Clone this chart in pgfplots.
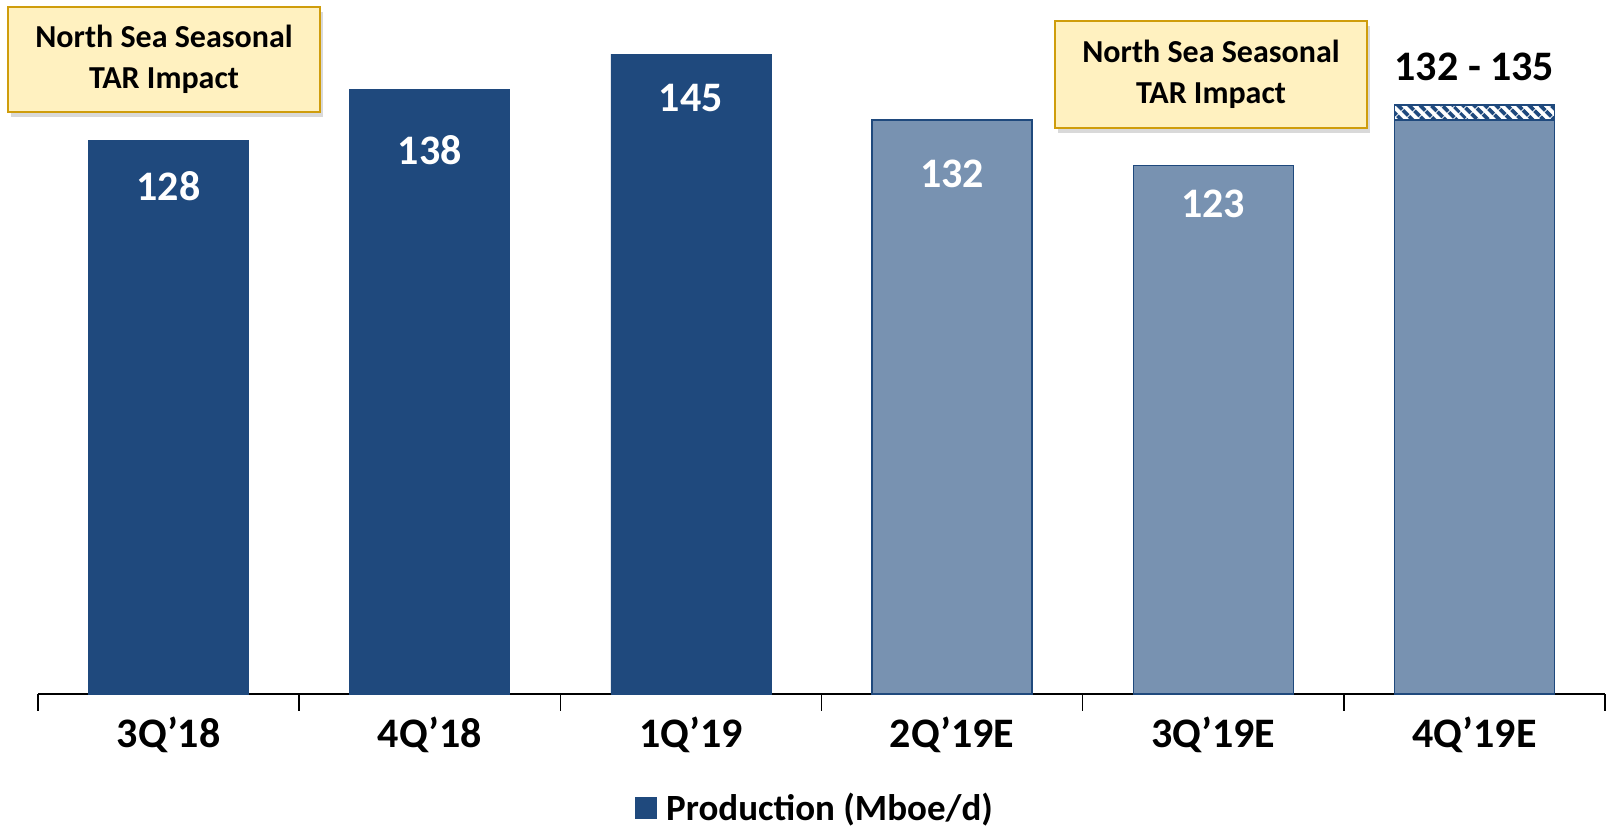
\documentclass[border=0pt]{standalone}
\usepackage{fontspec}
\setmainfont{Carlito}
\usepackage{pgfplots}
\pgfplotsset{compat=1.18}
\usetikzlibrary{shadows,patterns.meta}
\definecolor{cdark}{HTML}{1F497D}
\definecolor{clight}{HTML}{7892B1}
\definecolor{cboxfill}{HTML}{FFF1C0}
\definecolor{cboxline}{HTML}{CF9D0C}
\newcommand{\biglab}{\bfseries\fontsize{21}{25}\selectfont}
\newcommand{\boxlab}{\bfseries\fontsize{16}{20.5}\selectfont}
\newcommand{\leglab}{\bfseries\fontsize{18.5}{22}\selectfont}

\begin{document}
\begin{tikzpicture}
\begin{axis}[
  at={(19pt,67pt)}, anchor=south west,
  scale only axis, width=783.5pt, height=332.6pt,
  xmin=-0.5, xmax=5.5, ymin=18.8, ymax=150,
  ybar, bar width=80pt, clip=false,
  axis x line*=bottom, axis y line=none,
  x axis line style={black, line width=0.7pt, -},
  xtick={0,...,5},
  xticklabels={3Q’18,4Q’18,1Q’19,2Q’19E,3Q’19E,4Q’19E},
  major tick length=0pt,
  minor xtick={-0.5,0.5,...,5.5},
  minor tick length=8.5pt,
  tick align=outside,
  minor x tick style={black, line width=0.7pt},
  major x tick style={draw=none},
  xticklabel style={font=\biglab, anchor=base, yshift=-27pt},
  /pgf/number format/assume math mode=true,
  legend style={at={(0.4965,-0.1714)}, anchor=center, draw=none, fill=none,
    font=\leglab},
]
% actual quarters
\addplot[fill=cdark, draw=cdark, bar shift=0pt,
  legend image code/.code={\fill[cdark] (0pt,-5.25pt) rectangle (10.5pt,5.25pt);
    \path (13.1pt,0pt);},
  visualization depends on={\thisrow{off} \as \off},
  nodes near coords,
  every node near coord/.append style={font=\biglab, text=white, anchor=center, yshift=-\off pt}]
  table[x=x, y=y] {
x y off
0 128 23.0
1 138 30.2
2 145 22.0
};
\addlegendentry{Production (Mboe/d)}
% estimates
\addplot[fill=clight, draw=cdark, line width=0.75pt, bar shift=0pt, forget plot,
  visualization depends on={\thisrow{off} \as \off},
  nodes near coords,
  every node near coord/.append style={font=\biglab, text=white, anchor=center, yshift=-\off pt}]
  table[x=x, y=y] {
x y off
3 132 27.1
4 123 18.9
};
% 4Q'19E guidance range
\addplot[pattern={Lines[angle=-45, distance=4pt, line width=2pt]}, pattern color=cdark,
  draw=cdark, line width=0.75pt, bar shift=0pt, forget plot,
  nodes near coords={132 - 135},
  every node near coord/.append style={font=\biglab, text=black, anchor=center, yshift=18.75pt}]
  coordinates {(5,135)};
\addplot[fill=clight, draw=cdark, line width=0.75pt, bar shift=0pt, forget plot]
  coordinates {(5,132)};
\end{axis}
\tikzset{tarbox/.style={draw=cboxline, line width=1pt, fill=cboxfill, align=center,
  font=\boxlab, minimum width=156pt, inner sep=0pt,
  drop shadow={shadow xshift=1.5pt, shadow yshift=-2.5pt, opacity=0.3}}}
\node[tarbox, minimum height=52.5pt] at (82pt,384.25pt) {North Sea Seasonal\\TAR Impact};
\node[tarbox, minimum height=53.5pt] at (605.5pt,376.75pt) {North Sea Seasonal\\TAR Impact};
\pgfresetboundingbox
\useasboundingbox (0pt,0pt) rectangle (803pt,414pt);
\end{tikzpicture}
\end{document}
